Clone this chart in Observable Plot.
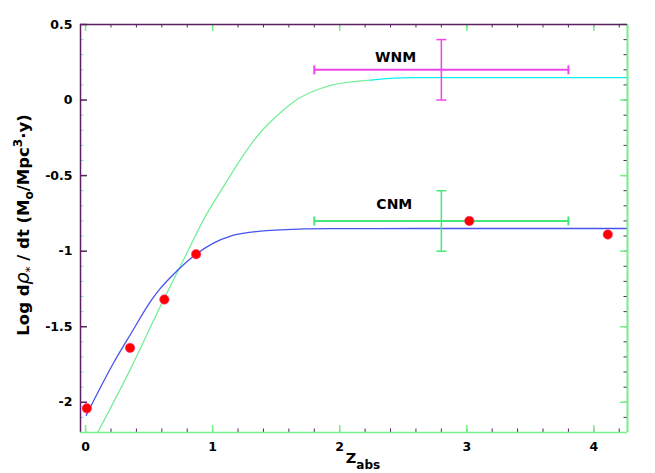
<!DOCTYPE html>
<html><head><meta charset="utf-8">
<script src="https://cdn.jsdelivr.net/npm/d3@7"></script>
<script src="https://cdn.jsdelivr.net/npm/@observablehq/plot@0.6"></script>
<style>body{margin:0;background:#fff}#chart{width:655px;height:473px}</style>
</head><body><div id="chart"></div>
<script>
// ---- data ----
const pointZ = [0.01, 0.35, 0.62, 0.87, 3.02, 4.11];
const pointLogRate = [-2.04, -1.64, -1.32, -1.02, -0.80, -0.89];

const blueZ   = [0.005, 0.223, 0.354, 0.525, 0.59, 0.72, 0.827, 1.01, 1.142, 1.273, 1.4, 1.535, 1.929, 2.6, 4.265];
const blueLog = [-2.087, -1.735, -1.55, -1.316, -1.245, -1.13, -1.048, -0.945, -0.9, -0.878, -0.866, -0.859, -0.851, -0.85, -0.85];

const greenZ   = [0.097, 0.354, 0.604, 0.774, 0.931, 1.089, 1.22, 1.352, 1.535, 1.667, 1.798, 1.929, 2.244, 2.559, 4.265];
const greenLog = [-2.197, -1.779, -1.338, -1.052, -0.788, -0.568, -0.392, -0.238, -0.083, 0.005, 0.06, 0.097, 0.132, 0.148, 0.148];
const greenSplitZ = 2.244;

const phaseNames   = ["WNM", "CNM"];
const phaseZ       = [2.8, 2.8];
const phaseZLow    = [1.8, 1.8];
const phaseZHigh   = [3.8, 3.8];
const phaseLog     = [0.2, -0.8];
const phaseLogLow  = [0.0, -1.0];
const phaseLogHigh = [0.4, -0.6];
const labelZ       = [2.44, 2.43];
const labelLog     = [0.28, -0.69];

const xMajorTicks = [0, 1, 2, 3, 4];
const xMinorTicks = d3.range(0, 4.21, 0.2).map(v => +v.toFixed(1));
const yMajorTicks = [-2, -1.5, -1, -0.5, 0, 0.5];
const yMinorTicks = d3.range(-2.2, 0.51, 0.1).map(v => +v.toFixed(1));

const xDomain = [-0.04, 4.265];
const yDomain = [-2.2, 0.5];

// ---- layout / style ----
const W = 655, H = 473, mL = 80, mR = 28, mT = 24, mB = 41;
const plotW = W - mL - mR, plotH = H - mT - mB;
const phaseColors = ["#ee44ee", "#44e878"];
const purple = "#5a2060", green = "#77ee88";

const blue = blueZ.map((z, i) => ({z, v: blueLog[i]}));
const greenAll = greenZ.map((z, i) => ({z, v: greenLog[i]}));
const greenA = greenAll.filter(d => d.z <= greenSplitZ);
const greenB = greenAll.filter(d => d.z >= greenSplitZ);
const points = pointZ.map((z, i) => ({z, v: pointLogRate[i]}));
const phases = phaseNames.map((name, i) => ({
  name, z: phaseZ[i], zLow: phaseZLow[i], zHigh: phaseZHigh[i],
  v: phaseLog[i], vLow: phaseLogLow[i], vHigh: phaseLogHigh[i],
  lz: labelZ[i], lv: labelLog[i], color: phaseColors[i]
}));

const capV = {draw(ctx, size) { const r = Math.sqrt(size / Math.PI); ctx.moveTo(0, -r); ctx.lineTo(0, r); }};
const capH = {draw(ctx, size) { const r = Math.sqrt(size / Math.PI); ctx.moveTo(-r, 0); ctx.lineTo(r, 0); }};

const marks = [
  // minor / major ticks inside on all four sides
  Plot.tickX(xMinorTicks, {x: d => d, insetTop: plotH - 3.5, stroke: purple}),
  Plot.tickX(xMajorTicks, {x: d => d, insetTop: plotH - 7, stroke: green, strokeWidth: 1.5}),
  Plot.tickX(xMinorTicks, {x: d => d, insetBottom: plotH - 3.5, stroke: purple}),
  Plot.tickX(xMajorTicks, {x: d => d, insetBottom: plotH - 7, stroke: green, strokeWidth: 1.5}),
  Plot.tickY(yMinorTicks, {y: d => d, insetRight: plotW - 3.5, stroke: green}),
  Plot.tickY(yMajorTicks, {y: d => d, insetRight: plotW - 7, stroke: purple, strokeWidth: 1.5}),
  Plot.tickY(yMinorTicks, {y: d => d, insetLeft: plotW - 3.5, stroke: purple}),
  Plot.tickY(yMajorTicks, {y: d => d, insetLeft: plotW - 7, stroke: green, strokeWidth: 1.5}),
  // curves
  Plot.line(greenA, {x: "z", y: "v", stroke: "#77ee99", strokeWidth: 1.3, curve: "monotone-x", clip: true}),
  Plot.line(greenB, {x: "z", y: "v", stroke: "#11eeee", strokeWidth: 1.3, curve: "monotone-x", clip: true}),
  Plot.line(blue, {x: "z", y: "v", stroke: "#4455ee", strokeWidth: 1.3, curve: "monotone-x", clip: true}),
  // frame
  Plot.ruleX([xDomain[0]], {stroke: purple, strokeWidth: 1.5}),
  Plot.ruleX([xDomain[1]], {stroke: green, strokeWidth: 2}),
  Plot.ruleY([yDomain[0]], {stroke: green, strokeWidth: 1.5}),
  Plot.ruleY([yDomain[1]], {stroke: purple, strokeWidth: 1.5}),
  // axes labels
  Plot.axisX(xMajorTicks, {tickSize: 0, tickPadding: 10, fontSize: 12.5, fontWeight: "bold", fill: "black", tickFormat: d => String(d), label: null}),
  Plot.axisY(yMajorTicks, {tickSize: 0, tickPadding: 8, fontSize: 12.5, fontWeight: "bold", fill: "black", tickFormat: d => String(d), label: null}),
];

// error bars
phases.forEach(p => {
  marks.push(
    Plot.ruleY([p], {y: "v", x1: "zLow", x2: "zHigh", stroke: p.color, strokeWidth: 2}),
    Plot.ruleX([p], {x: "z", y1: "vLow", y2: "vHigh", stroke: p.color, strokeWidth: 1.5}),
    Plot.dot([{z: p.zLow, v: p.v}, {z: p.zHigh, v: p.v}], {x: "z", y: "v", symbol: capV, r: 4.5, fill: "none", stroke: p.color, strokeWidth: 2}),
    Plot.dot([{z: p.z, v: p.vLow}, {z: p.z, v: p.vHigh}], {x: "z", y: "v", symbol: capH, r: 5, fill: "none", stroke: p.color, strokeWidth: 1.5}),
    Plot.text([p], {x: "lz", y: "lv", text: "name", fontSize: 14, fontWeight: "bold", fill: "black"})
  );
});

marks.push(Plot.dot(points, {x: "z", y: "v", r: 4.7, fill: "#ff0000", stroke: "#ff3388", strokeWidth: 0.6}));

const chart = Plot.plot({
  width: W, height: H,
  marginLeft: mL, marginRight: mR, marginTop: mT, marginBottom: mB,
  x: {domain: xDomain, axis: null},
  y: {domain: yDomain, axis: null},
  style: {background: "white", fontFamily: "'DejaVu Sans', sans-serif", color: "black", overflow: "visible"},
  marks
});

const svg = d3.select(chart);
// y axis title
const yt = svg.append("text")
  .attr("transform", `translate(29,${mT + plotH / 2 - 3}) rotate(-90)`)
  .attr("text-anchor", "middle")
  .attr("font-family", "'DejaVu Sans', sans-serif")
  .attr("font-weight", "bold").attr("font-size", 16.5).attr("fill", "black");
yt.append("tspan").text("Log d");
yt.append("tspan").attr("font-style", "italic").attr("font-weight", "normal").attr("font-size", 19).text("ρ");
yt.append("tspan").attr("dy", 5).attr("font-size", 12).attr("font-weight", "normal").text("*");
yt.append("tspan").attr("dy", -5).text(" / dt (M");
yt.append("tspan").attr("dy", 4).attr("font-size", 12).text("o");
yt.append("tspan").attr("dy", -4).text("/Mpc");
yt.append("tspan").attr("dy", -7).attr("font-size", 12).text("3");
yt.append("tspan").attr("dy", 7).text("·y)");
// x axis title
const xt = svg.append("text")
  .attr("x", 363).attr("y", 463)
  .attr("text-anchor", "middle")
  .attr("font-family", "'DejaVu Sans', sans-serif")
  .attr("font-weight", "bold").attr("font-size", 14.5).attr("fill", "black");
xt.append("tspan").text("Z");
xt.append("tspan").attr("dy", 5.5).attr("font-size", 12).text("abs");

document.getElementById("chart").appendChild(chart);
</script>
</body></html>
